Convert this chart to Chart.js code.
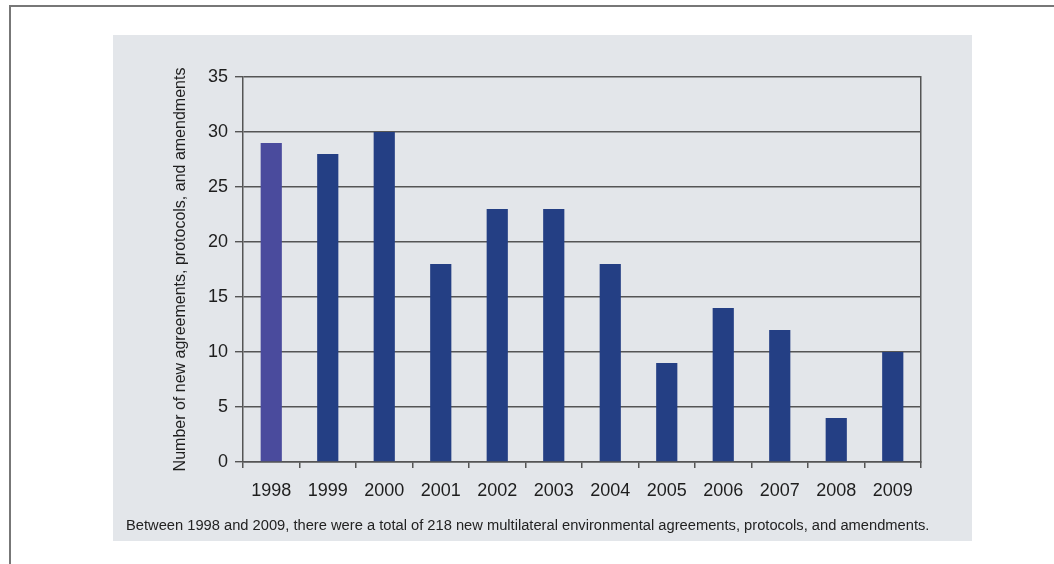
<!DOCTYPE html>
<html>
<head>
<meta charset="utf-8">
<script src="https://cdn.jsdelivr.net/npm/chart.js@4/dist/chart.umd.min.js"></script>
<style>
  html, body { margin: 0; padding: 0; background: #fff; }
  body { width: 1054px; height: 564px; position: relative; overflow: hidden; font-family: "Liberation Sans", Arial, sans-serif; }
  #frame { position: absolute; left: 9px; top: 5px; width: 1060px; height: 600px; border-top: 2px solid #777; border-left: 2px solid #777; }
  #panel { position: absolute; left: 113px; top: 35px; width: 859px; height: 506px; background: #e3e6ea; }
  #panel canvas { position: absolute; left: 0; top: 0; }
  #caption { position: absolute; left: 13px; top: 482px; font-size: 14.7px; color: #222; white-space: nowrap; }
</style>
</head>
<body>
<div id="frame"></div>
<div id="panel">
  <canvas id="chart" width="859" height="506"></canvas>
  <div id="caption">Between 1998 and 2009, there were a total of 218 new multilateral environmental agreements, protocols, and amendments.</div>
</div>
<script>
const years = ["1998", "1999", "2000", "2001", "2002", "2003", "2004", "2005", "2006", "2007", "2008", "2009"];
const agreements = [29, 28, 30, 18, 23, 23, 18, 9, 14, 12, 4, 10];
const yTitle = "Number of new agreements, protocols, and amendments";

const gridColor = "#555";
const textColor = "#1e1e1e";

new Chart(document.getElementById("chart"), {
  type: "bar",
  data: {
    labels: years,
    datasets: [{
      data: agreements,
      backgroundColor: ctx => ctx.dataIndex === 0 ? "#4a4b9d" : "#243f84",
      categoryPercentage: 1,
      barPercentage: 0.375
    }]
  },
  options: {
    responsive: false,
    animation: false,
    layout: { padding: { left: 57, top: 42, right: 51, bottom: 0 } },
    plugins: { legend: { display: false }, tooltip: { enabled: false } },
    scales: {
      x: {
        grid: { drawOnChartArea: false, drawTicks: true, tickLength: 6, color: gridColor, lineWidth: 1.5 },
        border: { display: true, color: gridColor, width: 1.5 },
        ticks: { color: textColor, font: { family: "Liberation Sans", size: 18 }, padding: 12, maxRotation: 0 },
        afterFit: s => { s.height = 79; }
      },
      y: {
        min: 0,
        max: 35,
        ticks: { stepSize: 5, color: textColor, font: { family: "Liberation Sans", size: 18 }, padding: 7 },
        grid: { color: gridColor, lineWidth: 1.4, tickLength: 8 },
        border: { display: true, color: gridColor, width: 1.5 },
        title: { display: true, text: yTitle, color: textColor, font: { family: "Liberation Sans", size: 16 }, padding: { top: 1, bottom: 0 } },
        afterFit: s => { s.width = 73; }
      },
      y2: {
        position: "right",
        min: 0,
        max: 35,
        ticks: { display: false },
        grid: { drawOnChartArea: false, drawTicks: false },
        border: { display: true, color: gridColor, width: 1.5 },
        afterFit: s => { s.width = 0; }
      }
    }
  }
});
</script>
</body>
</html>
